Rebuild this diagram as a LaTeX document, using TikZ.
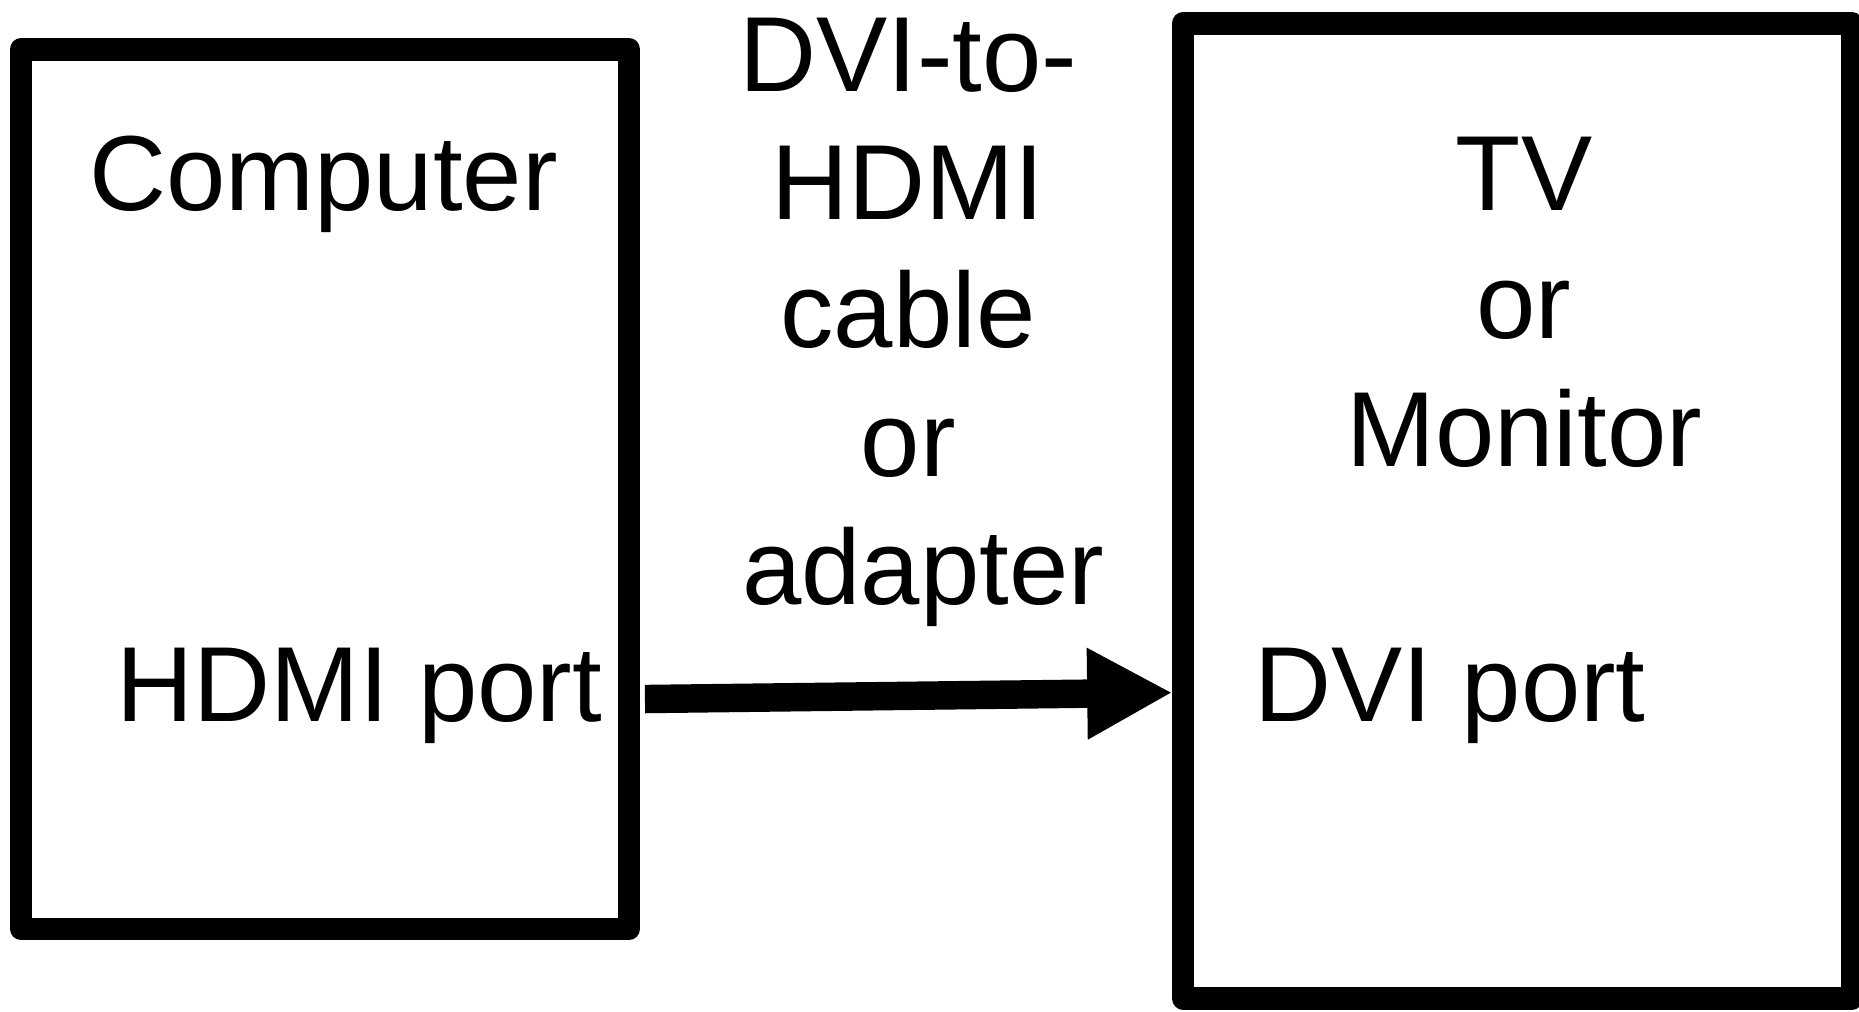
\documentclass[tikz,border=0pt]{standalone}
\usepackage{fontspec}
\setmainfont{Liberation Sans}
\usetikzlibrary{arrows.meta}
\begin{document}
\begin{tikzpicture}[x=0.5pt,y=-0.5pt,
  devbox/.style={draw=black, line width=9.5pt, line join=round, inner sep=0pt, rectangle},
  lbl/.style={inner sep=0pt, font=\fontsize{45}{54}\selectfont, anchor=base, align=center},
  cable/.style={line width=12pt, -{Triangle[length=36pt,width=36pt]}}]
\useasboundingbox[fill=white] (0,0) rectangle (1568,853);
\node[devbox, minimum width=256.3pt, minimum height=370.95pt] (L) at (274.2,412.5) {};
\node[devbox, minimum width=282pt, minimum height=411.15pt] (R) at (1280,430.85) {};
\node[lbl] (comp) at (273,177.7) {Computer};
\node[lbl] (hdmi) at (303,608.7) {HDMI port};
\node[lbl] (tv) at (1285.5,393.6) {TV\\or\\Monitor};
\node[lbl] (dvi) at (1223,608.7) {DVI port};
\node[lbl] (cab) at (766,509.5) {DVI-to-\\HDMI\\cable\\or\\\hspace*{12.5pt}adapter};
\coordinate (cs) at (544,589.6);
\coordinate (ct) at (989,584.2);
\draw[cable] (cs) -- (ct);
\end{tikzpicture}
\end{document}
